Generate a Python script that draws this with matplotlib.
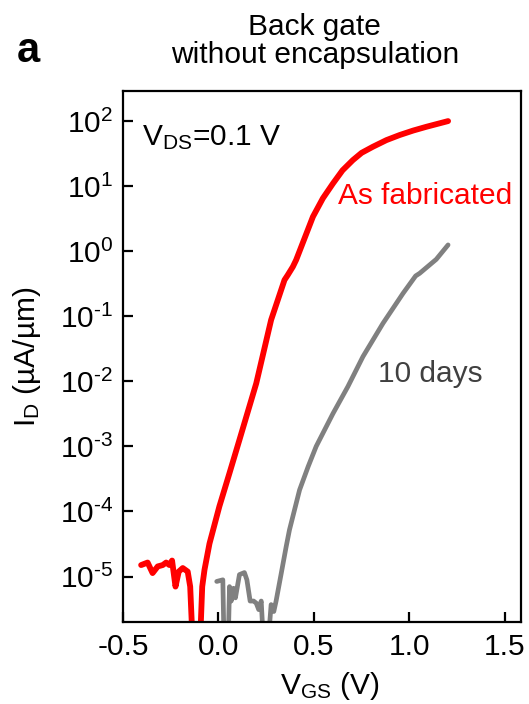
import matplotlib
matplotlib.use("Agg")
import matplotlib.pyplot as plt
import numpy as np

# ---- data ----
vgs_fab = [-0.405, -0.371, -0.345, -0.318, -0.292, -0.274, -0.257, -0.243, -0.225,
           -0.208, -0.187, -0.161, -0.148, -0.131, -0.100, -0.085, -0.073, -0.047,
           0.005, 0.058, 0.110, 0.198, 0.276, 0.346, 0.363, 0.390, 0.407, 0.495,
           0.547, 0.600, 0.650, 0.704, 0.750, 0.809, 0.880, 0.949, 1.020, 1.089, 1.203]
id_fab = [1.5e-5, 1.64e-5, 1.13e-5, 1.43e-5, 1.5e-5, 1.64e-5, 1.5e-5, 1.76e-5, 7.0e-6,
          1.19e-5, 1.35e-5, 1.19e-5, 7.0e-6, 5e-7, 5e-7, 7.0e-6, 1.27e-5, 3.2e-5,
          1.2e-4, 3.9e-4, 1.26e-3, 9.3e-3, 8.8e-2, 0.361, 0.43, 0.578, 0.733, 3.39,
          6.5, 11.0, 17.5, 25.1, 32.5, 40.3, 51.0, 61.0, 71.5, 81.7, 100.0]

vgs_10d = [-0.009, 0.023, 0.031, 0.049, 0.058, 0.067, 0.079, 0.089, 0.110, 0.136,
           0.149, 0.166, 0.184, 0.198, 0.211, 0.224, 0.241, 0.253, 0.276, 0.290,
           0.302, 0.329, 0.355, 0.372, 0.425, 0.470, 0.512, 0.600, 0.678, 0.757, 0.862,
           0.967, 1.033, 1.054, 1.141, 1.203]
id_10d = [8.4e-6, 8.9e-6, 5e-7, 5e-7, 7.0e-6, 4.2e-6, 6.6e-6, 4.7e-6, 1.07e-5, 1.15e-5,
          8.9e-6, 4.2e-6, 4.2e-6, 3.9e-6, 3.1e-6, 4.2e-6, 5e-7, 5e-7, 3.7e-6, 2.9e-6,
          4.2e-6, 1.12e-5, 2.9e-5, 5.2e-5, 2.14e-4, 4.9e-4, 1.0e-3, 3.2e-3, 8.3e-3, 2.4e-2, 7.8e-2,
          0.225, 0.417, 0.457, 0.75, 1.25]

xticks = [-0.5, 0.0, 0.5, 1.0, 1.5]
xticklabels = ["-0.5", "0.0", "0.5", "1.0", "1.5"]
ytick_exps = [-5, -4, -3, -2, -1, 0, 1, 2]

# ---- style ----
plt.rcParams['font.family'] = ['Liberation Sans', 'DejaVu Sans']
plt.rcParams['mathtext.fontset'] = 'custom'
plt.rcParams['mathtext.rm'] = 'Liberation Sans'
plt.rcParams['mathtext.it'] = 'Liberation Sans:italic'
plt.rcParams['mathtext.bf'] = 'Liberation Sans:bold'
plt.rcParams['axes.unicode_minus'] = False

FS = 21.5

fig = plt.figure(figsize=(5.29, 7.04), dpi=100)
ax = fig.add_axes([123/529, 1-622/704, (521-123)/529, (622-91)/704])

ax.plot(vgs_fab, id_fab, color='#ff0000', lw=4.2, solid_joinstyle='round',
        solid_capstyle='round')
ax.plot(vgs_10d, id_10d, color='#808080', lw=3.4, solid_joinstyle='round',
        solid_capstyle='round')

ax.set_yscale('log')
ax.set_xlim(-0.5, 1.585)
ax.set_ylim(2.0e-6, 290)
ax.set_xticks(xticks)
ax.set_xticklabels(xticklabels)
ax.set_yticks([10.0**e for e in ytick_exps])
ax.set_yticklabels([r'$\mathregular{10^{%s}}$' % (str(e).replace('-', '\u2010'))
                    for e in ytick_exps])
ax.minorticks_off()

for s in ax.spines.values():
    s.set_linewidth(1.6)
ax.tick_params(axis='both', which='major', direction='in', length=7, width=1.6,
               labelsize=FS, top=False, right=False)
ax.tick_params(axis='y', pad=7)
ax.tick_params(axis='x', pad=8)

ax.set_xlabel(r'V$_{\mathregular{GS}}$ (V)', fontsize=FS)
ax.xaxis.set_label_coords(0.52, -0.09)
ax.set_ylabel(r'I$_{\mathregular{D}}$ (µA/µm)', fontsize=FS)
ax.yaxis.set_label_coords(-0.20, 0.5)

ax.text(0.047, 0.898, r'V$_{\mathregular{DS}}$=0.1 V', transform=ax.transAxes,
        fontsize=FS, ha='left', va='baseline', color='black')
ax.text(0.624, 5.3, 'As fabricated', fontsize=FS, color='#ff0000',
        ha='left', va='baseline')
ax.text(0.834, 9.9e-3, '10 days', fontsize=FS, color='#404040',
        ha='left', va='baseline')

fig.text(0.595, 1-35/704, 'Back gate', fontsize=FS, ha='center', va='baseline')
fig.text(0.595, 1-63/704, 'without encapsulation', fontsize=FS, ha='center', va='baseline')
fig.text(0.032, 1-62/704, 'a', fontsize=30, fontweight='bold', ha='left', va='baseline')

fig.savefig('out.png', dpi=100)
